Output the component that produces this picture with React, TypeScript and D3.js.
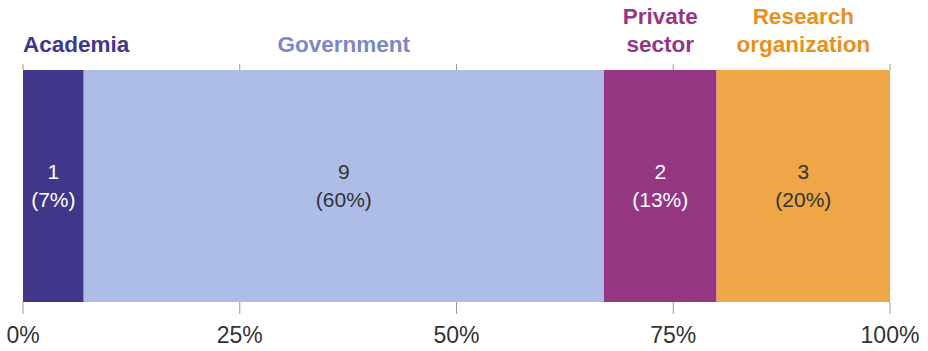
import React from "react";
import * as d3 from "d3";

const categories = ["Academia", "Government", "Private sector", "Research organization"];
const counts = [1, 9, 2, 3];
const percents = [7, 60, 13, 20];
const labelLines = [["Academia"], ["Government"], ["Private", "sector"], ["Research", "organization"]];
const barColors = ["#40378b", "#aebde8", "#953683", "#eea646"];
const titleColors = ["#40378b", "#7b87c9", "#953683", "#e98f1c"];
const innerTextColors = ["#ffffff", "#333333", "#ffffff", "#333333"];
const tickValues = [0, 25, 50, 75, 100];

const W = 928, H = 351;
const margin = { left: 23, right: 38, top: 70, bottom: 49 };

export default function App() {
  const x = d3.scaleLinear().domain([0, 100]).range([margin.left, W - margin.right]);
  const y0 = margin.top, y1 = 302;
  const cum = Array.from(d3.cumsum(percents));
  const stack = cum.map((c, i) => ({ end: c, start: c - percents[i] }));
  const font = "'Liberation Sans', Arial, Helvetica, sans-serif";
  return (
    <svg width={W} height={H} style={{ position: "absolute", left: 0, top: 0 }} fontFamily={font}>
      {stack.map((s, i) => {
        const cx = (x(s.start) + x(s.end)) / 2;
        const lines = labelLines[i];
        const estW = d3.max(lines, (l) => l.length) * 12.5;
        const anchorStart = cx - estW / 2 < margin.left;
        return (
          <g key={categories[i]}>
            <rect x={x(s.start)} y={y0} width={x(s.end) - x(s.start)} height={y1 - y0} fill={barColors[i]} />
            {lines.map((ln, j) => (
              <text key={j} x={anchorStart ? x(s.start) : cx} y={52 - (lines.length - 1 - j) * 28}
                textAnchor={anchorStart ? "start" : "middle"} fontSize={22.5} fontWeight="bold" fill={titleColors[i]}>{ln}</text>
            ))}
            <text x={cx} y={179} textAnchor="middle" fontSize={21} fill={innerTextColors[i]}>{counts[i]}</text>
            <text x={cx} y={207} textAnchor="middle" fontSize={21} fill={innerTextColors[i]}>({percents[i]}%)</text>
          </g>
        );
      })}
      {tickValues.map((t) => (
        <g key={t}>
          <line x1={x(t)} x2={x(t)} y1={y0 - 6} y2={y0} stroke="#999" strokeWidth={1} />
          <line x1={x(t)} x2={x(t)} y1={y1} y2={y1 + 12} stroke="#999" strokeWidth={1} />
          <text x={x(t)} y={343} textAnchor="middle" fontSize={23} fill="#333">{t}%</text>
        </g>
      ))}
    </svg>
  );
}
